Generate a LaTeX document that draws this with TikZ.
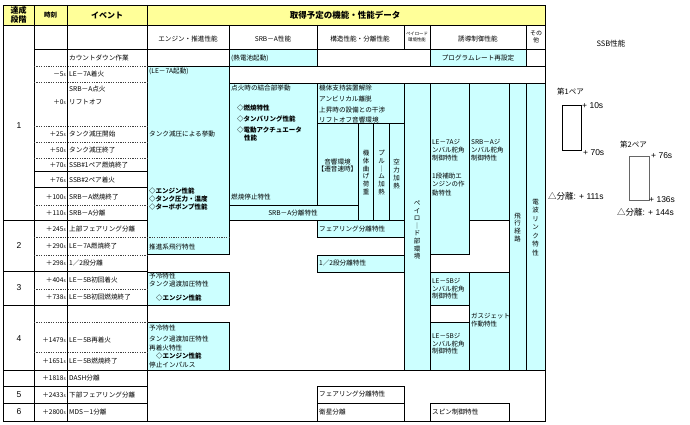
\documentclass[tikz,border=0pt]{standalone}
\usepackage{fontspec}
\setmainfont{Noto Sans CJK JP}
\newfontfamily\lat{Liberation Sans}
\definecolor{cyanfill}{HTML}{CCFFFF}
\definecolor{yelfill}{HTML}{FFFF99}
\newcommand\mysec{{\fontsize{4.8}{5}\selectfont s}}
\tikzset{
  cell/.style={fill=cyanfill, draw=black, line width=0.6pt},
  grid/.style={draw=black, line width=0.6pt},
  dgrid/.style={draw=black!75, line width=0.5pt, dash pattern=on 1.2pt off 1.2pt},
  tx/.style={anchor=west, inner sep=0pt, font=\fontsize{6.6}{7.5}\selectfont},
  txb/.style={anchor=west, inner sep=0pt, font=\bfseries\fontsize{6.5}{7.5}\selectfont},
  txc/.style={anchor=center, inner sep=0pt, align=center, font=\fontsize{6.6}{7.5}\selectfont},
  tm/.style={anchor=east, inner sep=0pt, font=\fontsize{6.6}{7.5}\selectfont},
  vt/.style={anchor=center, inner sep=0pt, align=center, font=\fontsize{6.5}{7.8}\selectfont},
  stg/.style={anchor=center, inner sep=0pt, font=\lat\fontsize{8.5}{9}\selectfont},
  ssb/.style={anchor=west, inner sep=0pt, font=\lat\fontsize{8.5}{9}\selectfont},
  ssbj/.style={anchor=west, inner sep=0pt, font=\fontsize{7.5}{8}\selectfont},
}
\begin{document}
\begin{tikzpicture}[x=1pt,y=-1pt]
\useasboundingbox (0,0) rectangle (690,425);
\fill[white] (0,0) rectangle (690,425);
% header fill
\fill[yelfill] (3,5) rectangle (545,25);
% cyan cells
\foreach \a/\b/\c/\d in {229/49/317/66, 430/49/526/66, 147/66/229/254, 229/83/317/205,
  317/83/404/123, 317/123/358/205, 358/123/373/220, 373/123/389/220, 389/123/404/220,
  229/205/358/220, 404/83/430/370, 430/83/469/254, 469/83/509/220, 509/83/526/370,
  526/83/545/370, 317/220/404/237, 317/255/404/272, 147/272/229/305, 147/322/229/370,
  430/272/469/305, 430/322/469/370, 469/272/509/370}
  \draw[cell] (\a,\b) rectangle (\c,\d);
% white boxes
\draw[grid] (317,386) rectangle (404,403);
\draw[grid] (317,403) rectangle (404,421);
\draw[grid] (430,403) rectangle (509,421);
% grid lines
\draw[grid] (3,5) rectangle (545,421);
\draw[grid] (3,25) -- (545,25);
\draw[grid] (34,49) -- (545,49);
\draw[grid] (229,66) -- (545,66);
\draw[grid] (229,83) -- (545,83);
\foreach \x in {34,67,147} \draw[grid] (\x,5) -- (\x,421);
\foreach \x in {229,317,404,430,526} \draw[grid] (\x,25) -- (\x,49);
\foreach \y in {171,187} \draw[grid] (34,\y) -- (147,\y);
\foreach \y in {220,271,305,386,403} \draw[grid] (3,\y) -- (147,\y);
\draw[grid] (3,370) -- (545,370);
\foreach \y in {66,82,126,142,158,205,237,255,289,322,352} \draw[dgrid] (34,\y) -- (147,\y);
\draw[dgrid] (147,237) -- (229,237);

% header texts
\node[anchor=center, inner sep=0pt, align=center, font=\bfseries\fontsize{8}{9}\selectfont] (hstage) at (18.5,15) {達成\\段階};
\node[anchor=center, inner sep=0pt, font=\bfseries\fontsize{6.5}{7}\selectfont] (htime) at (50.5,15) {時刻};
\node[anchor=center, inner sep=0pt, font=\bfseries\fontsize{8}{9}\selectfont] (hevent) at (107,15) {イベント};
\node[anchor=center, inner sep=0pt, font=\bfseries\fontsize{8.5}{9}\selectfont] (hdata) at (345,15) {取得予定の機能・性能データ};
% sub headers
\node[txc] (s1) at (188,39) {エンジン・推進性能};
\node[txc] (s2) at (273,39) {SRB－A性能};
\node[txc] (s3) at (360,39) {構造性能・分離性能};
\node[anchor=center, inner sep=0pt, align=center, font=\fontsize{4.4}{5.5}\selectfont] (s4) at (417,37) {ペイロード\\環境性能};
\node[txc] (s5) at (478,39) {誘導制御性能};
\node[anchor=center, inner sep=0pt, align=center, font=\fontsize{6}{7.5}\selectfont] (s6) at (536,37) {その\\他};

% stage numbers
\node[stg] (g1) at (19,126) {1};
\node[stg] (g2) at (19,246) {2};
\node[stg] (g3) at (19,288) {3};
\node[stg] (g4) at (19,339) {4};
\node[stg] (g5) at (19,395) {5};
\node[stg] (g6) at (19,412) {6};

% times
\node[tm] (t1) at (66,74) {－5\mysec};
\node[tm] (t2) at (66,102) {＋0\mysec};
\node[tm] (t3) at (66,134) {＋25\mysec};
\node[tm] (t4) at (66,150) {＋50\mysec};
\node[tm] (t5) at (66,165) {＋70\mysec};
\node[tm] (t6) at (66,180) {＋76\mysec};
\node[tm] (t7) at (66,197) {＋100\mysec};
\node[tm] (t8) at (66,213) {＋110\mysec};
\node[tm] (t9) at (66,229) {＋245\mysec};
\node[tm] (t10) at (66,246) {＋290\mysec};
\node[tm] (t11) at (66,263) {＋298\mysec};
\node[tm] (t12) at (66,280) {＋404\mysec};
\node[tm] (t13) at (66,297) {＋738\mysec};
\node[tm] (t14) at (66,340) {＋1479\mysec};
\node[tm] (t15) at (66,361) {＋1651\mysec};
\node[tm] (t16) at (66,378) {＋1818\mysec};
\node[tm] (t17) at (66,395) {＋2433\mysec};
\node[tm] (t18) at (66,412) {＋2800\mysec};

% events
\node[tx] (e0) at (69,58) {カウントダウン作業};
\node[tx] (e1) at (69,74) {LE－7A着火};
\node[tx] (e2a) at (69,89) {SRB－A点火};
\node[tx] (e2b) at (69,102) {リフトオフ};
\node[tx] (e3) at (69,134) {タンク減圧開始};
\node[tx] (e4) at (69,150) {タンク減圧終了};
\node[tx] (e5) at (69,165) {SSB\#1ペア燃焼終了};
\node[tx] (e6) at (69,180) {SSB\#2ペア着火};
\node[tx] (e7) at (69,197) {SRB－A燃焼終了};
\node[tx] (e8) at (69,213) {SRB－A分離};
\node[tx] (e9) at (69,229) {上部フェアリング分離};
\node[tx] (e10) at (69,246) {LE－7A燃焼終了};
\node[tx] (e11) at (69,263) {1／2段分離};
\node[tx] (e12) at (69,280) {LE－5B初回着火};
\node[tx] (e13) at (69,297) {LE－5B初回燃焼終了};
\node[tx] (e14) at (69,340) {LE－5B再着火};
\node[tx] (e15) at (69,361) {LE－5B燃焼終了};
\node[tx] (e16) at (69,378) {DASH分離};
\node[tx] (e17) at (69,395) {下部フェアリング分離};
\node[tx] (e18) at (69,412) {MDS－1分離};

% engine column
\node[tx] (en1) at (149,71) {(LE－7A起動)};
\node[tx] (en2) at (149,134) {タンク減圧による挙動};
\node[txb] (en3) at (149,191) {◇エンジン性能};
\node[txb] (en4) at (149,199) {◇タンク圧力・温度};
\node[txb] (en5) at (149,207) {◇ターボポンプ性能};
\node[tx] (en6) at (149,247) {推進系飛行特性};
\node[tx] (en7) at (149,276) {予冷特性};
\node[tx] (en8) at (149,284) {タンク過渡加圧特性};
\node[txb] (en9) at (156,298) {◇エンジン性能};
\node[tx] (en10) at (149,328) {予冷特性};
\node[tx] (en11) at (149,339) {タンク過渡加圧特性};
\node[tx] (en12) at (149,348) {再着火特性};
\node[txb] (en13) at (156,356) {◇エンジン性能};
\node[tx] (en14) at (149,365) {停止インパルス};

% SRB column
\node[tx] (sr0) at (231,58) {(熱電池起動)};
\node[tx] (sr1) at (231,88) {点火時の結合部挙動};
\node[txb] (sr2) at (237,108) {◇燃焼特性};
\node[txb] (sr3) at (237,119) {◇タンバリング性能};
\node[txb] (sr4) at (237,130) {◇電動アクチュエータ};
\node[txb] (sr5) at (244,138) {性能};
\node[tx] (sr6) at (231,197) {燃焼停止特性};
\node[txc] (sr7) at (293,213) {SRB－A分離特性};

% structure column
\node[tx] (st1) at (319,88) {機体支持装置解除};
\node[tx] (st2) at (319,99) {アンビリカル離脱};
\node[tx] (st3) at (319,110) {上昇時の設備との干渉};
\node[tx] (st4) at (319,120) {リフトオフ音響環境};
\node[txc] (st5) at (337.5,165.5) {音響環境\\【遷音速時】};
\node[vt] (st6) at (366,172.5) {機\\体\\曲\\げ\\荷\\重};
\node[vt] (st7) at (381.5,172.5) {プ\\ル\\｜\\ム\\加\\熱};
\node[vt] (st8) at (396.5,174) {空\\力\\加\\熱};
\node[tx] (st9) at (319,229) {フェアリング分離特性};
\node[tx] (st10) at (319,263) {1／2段分離特性};
\node[tx] (st11) at (319,394.5) {フェアリング分離特性};
\node[tx] (st12) at (319,412) {衛星分離};

% payload column
\node[anchor=center, inner sep=0pt, align=center, font=\fontsize{6.5}{7.6}\selectfont] (pl) at (417,230) {ペ\\イ\\ロ\\｜\\ド\\部\\環\\境};

% guidance column
\node[txc] (gd0) at (478,58) {プログラムレート再設定};
\node[anchor=north west, inner sep=0pt, align=left, font=\fontsize{6.5}{8.3}\selectfont] (gd1) at (432,139) {LE－7Aジ\\ンバル舵角\\制御特性};
\node[anchor=north west, inner sep=0pt, align=left, font=\fontsize{6.5}{8.3}\selectfont] (gd2) at (432,173) {1段補助エ\\ンジンの作\\動特性};
\node[anchor=north west, inner sep=0pt, align=left, font=\fontsize{6.5}{8.3}\selectfont] (gd3) at (471,139) {SRB－Aジ\\ンバル舵角\\制御特性};
\node[anchor=north west, inner sep=0pt, align=left, font=\fontsize{6.5}{7.8}\selectfont] (gd4) at (432,278) {LE－5Bジ\\ンバル舵角\\制御特性};
\node[anchor=north west, inner sep=0pt, align=left, font=\fontsize{6.5}{7.8}\selectfont] (gd5) at (432,333) {LE－5Bジ\\ンバル舵角\\制御特性};
\node[anchor=north west, inner sep=0pt, align=left, font=\fontsize{6.5}{7.5}\selectfont] (gd6) at (471,313) {ガスジェット\\作動特性};
\node[vt] (gd7) at (517.5,227.5) {飛\\行\\経\\路};
\node[tx] (gd8) at (432,412) {スピン制御特性};
% other column
\node[anchor=center, inner sep=0pt, align=center, font=\fontsize{6.5}{8.5}\selectfont] (ot) at (535.5,227.5) {電\\波\\リ\\ン\\ク\\特\\性};

% SSB performance diagram
\node[anchor=center, inner sep=0pt, font=\fontsize{7.5}{8}\selectfont] (ssbt) at (611,44) {SSB性能};
\node[ssbj] (p1) at (557,92) {第1ペア};
\draw[line width=0.8pt] (562,105) rectangle (581,150);
\node[ssb] (p1a) at (582,106) {+ 10s};
\node[ssb] (p1b) at (583,153) {+ 70s};
\node[ssbj] (p2) at (620,145) {第2ペア};
\draw[line width=0.8pt, draw=black!60] (629,156) rectangle (649,200);
\node[ssb] (p2a) at (651,156) {+ 76s};
\node[ssb] (p2b) at (649,200) {+ 136s};
\node[ssb] (sep1) at (548,196) {\fontspec{Noto Sans CJK JP}△分離\lat: + 111s};
\node[ssb] (sep2) at (617,212) {\fontspec{Noto Sans CJK JP}△分離\lat: + 144s};
\end{tikzpicture}
\end{document}
